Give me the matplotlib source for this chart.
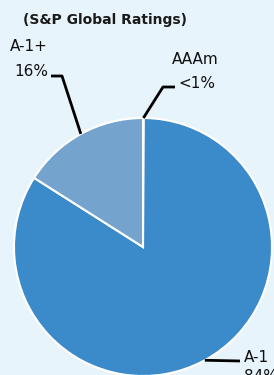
import numpy as np
import matplotlib.pyplot as plt

# ratings split (S&P)
labels = ["AAAm", "A-1", "A-1+"]
pct_text = ["<1%", "84%", "16%"]
values = [0.1, 83.9, 16.0]
colors = ["#3b8ac9", "#3b8ac9", "#74a4cd"]

W, H = 274, 375
cx, cy, R = 143, 247, 129   # pie centre / radius in pixels

def px(x, y):
    # pixel (from top-left) -> data units, radius 1 == R px
    return (x - cx) / R, (cy - y) / R

plt.rcParams['font.family'] = ['DejaVu Sans']

fig = plt.figure(figsize=(W / 100, H / 100), dpi=100)
fig.patch.set_facecolor("#e8f4fb")
ax = fig.add_axes([0, 0, 1, 1])
ax.set_facecolor("#e8f4fb")

wedges, _ = ax.pie(values, colors=colors, startangle=90, counterclock=False,
                   radius=1, wedgeprops=dict(edgecolor="white", linewidth=1.5))
# pie resets the limits, so set them afterwards
ax.set_aspect("auto")
ax.set_xlim(px(0, 0)[0], px(W, 0)[0])
ax.set_ylim(px(0, H)[1], px(0, 0)[1])
ax.axis("off")

def edge(w):
    a = np.deg2rad((w.theta1 + w.theta2) / 2)
    return np.cos(a), np.sin(a)

# leader lines: from wedge edge through elbow to label
# AAAm - points at the very top of the pie
a0 = edge(wedges[0])
e1 = px(163, 87); e2 = px(175, 87)
ax.plot([a0[0], e1[0], e2[0]], [a0[1], e1[1], e2[1]], color="black", lw=2, solid_capstyle="butt")
# A-1+
a2 = edge(wedges[2])
e1 = px(62, 76); e2 = px(51, 76)
ax.plot([a2[0], e1[0], e2[0]], [a2[1], e1[1], e2[1]], color="black", lw=2, solid_capstyle="butt")
# A-1
a1 = edge(wedges[1])
e2 = px(240, 361)
ax.plot([a1[0], e2[0]], [a1[1], e2[1]], color="black", lw=2, solid_capstyle="butt")

fs = 11
kw = dict(fontsize=fs, color="#111111", va="baseline")
ax.text(*px(195.5, 64), labels[0], ha="center", **kw)
ax.text(*px(197, 88), pct_text[0], ha="center", **kw)
ax.text(*px(28.5, 51), labels[2], ha="center", **kw)
ax.text(*px(31, 76), pct_text[2], ha="center", **kw)
ax.text(*px(244, 362), labels[1], ha="left", **kw)
ax.text(*px(244, 381), pct_text[1], ha="left", **kw)

fig.text(23 / W, 1 - 24 / H, "(S&P Global Ratings)", fontsize=10, fontweight="bold",
         color="#1a1a1a", ha="left", va="baseline")

fig.savefig("out.png", dpi=100, facecolor=fig.get_facecolor())
